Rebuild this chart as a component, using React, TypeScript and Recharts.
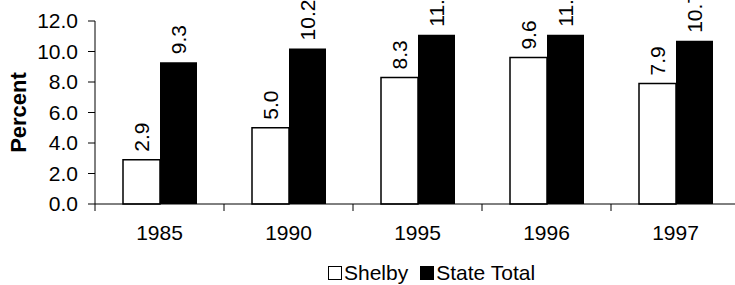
import { Bar, BarChart, LabelList, Legend, XAxis, YAxis } from "recharts";

const years = ["1985", "1990", "1995", "1996", "1997"];
const shelby = [2.9, 5.0, 8.3, 9.6, 7.9];
const stateTotal = [9.3, 10.2, 11.1, 11.1, 10.7];
const yTicks = [0, 2, 4, 6, 8, 10, 12];

const data = years.map((year, i) => ({ year, shelby: shelby[i], state: stateTotal[i] }));

const FONT = 21;
const TICK = 7;
const GAP = 14;

function ValueLabel(props: any) {
  const { x, y, width, value } = props;
  const cx = Number(x) + Number(width) / 2;
  const cy = Number(y) - 8;
  return (
    <text
      x={cx}
      y={cy}
      transform={`rotate(-90, ${cx}, ${cy})`}
      textAnchor="start"
      dominantBaseline="central"
      fontSize={FONT}
      fill="#000"
    >
      {Number(value).toFixed(1)}
    </text>
  );
}

// category label, plus Excel-style tick marks on the category boundaries
function YearTick(props: any) {
  const { x, y, payload, index } = props;
  const half = Number(payload?.offset ?? 0);
  const top = Number(y) - TICK - GAP;
  const last = index === years.length - 1;
  return (
    <g>
      <line x1={x - half} x2={x - half} y1={top} y2={top + TICK} stroke="#000" />
      {last && <line x1={x + half} x2={x + half} y1={top} y2={top + TICK} stroke="#000" />}
      <text x={x} y={y} dy="0.71em" textAnchor="middle" fontSize={FONT} fill="#000">
        {payload.value}
      </text>
    </g>
  );
}

function LegendBox() {
  const sq = { display: "inline-block", width: 14, height: 14, boxSizing: "border-box" as const, border: "1.5px solid #000" };
  return (
    <div style={{ height: 24, display: "flex", alignItems: "center", paddingLeft: 328, fontSize: FONT, color: "#000", lineHeight: "24px" }}>
      <span style={{ ...sq, background: "#fff" }} />
      <span style={{ marginLeft: 2 }}>Shelby</span>
      <span style={{ ...sq, background: "#000", marginLeft: 12 }} />
      <span style={{ marginLeft: 2 }}>State Total</span>
    </div>
  );
}

export default function App() {
  return (
    <div
      style={{
        position: "absolute", top: 0, left: 0, width: 735, height: 285, overflow: "hidden",
        background: "#fff", fontFamily: "'Liberation Sans', Arial, sans-serif",
      }}
    >
      <BarChart
        width={760}
        height={285}
        data={data}
        margin={{ top: 21, right: 20, bottom: 0, left: 0 }}
        barSize={37}
        barGap={0}
      >
        <XAxis
          dataKey="year"
          height={57}
          tickSize={TICK}
          tickMargin={GAP}
          tickLine={false}
          stroke="#000"
          tick={YearTick}
          interval={0}
        />
        <YAxis
          domain={[0, 12]}
          ticks={yTicks}
          width={95}
          tickSize={TICK}
          tickMargin={10}
          stroke="#000"
          tick={{ fill: "#000", fontSize: FONT }}
          tickFormatter={(v: number) => v.toFixed(1)}
          label={{
            value: "Percent", angle: -90, position: "insideLeft", offset: 18,
            style: { textAnchor: "middle", fontWeight: "bold", fontSize: 22, fill: "#000" },
          }}
        />
        <Legend verticalAlign="bottom" align="left" height={24} content={() => <LegendBox />} />
        <Bar dataKey="shelby" name="Shelby" fill="#fff" stroke="#000" strokeWidth={1.5} isAnimationActive={false}>
          <LabelList dataKey="shelby" content={ValueLabel} />
        </Bar>
        <Bar dataKey="state" name="State Total" fill="#000" isAnimationActive={false}>
          <LabelList dataKey="state" content={ValueLabel} />
        </Bar>
      </BarChart>
    </div>
  );
}
